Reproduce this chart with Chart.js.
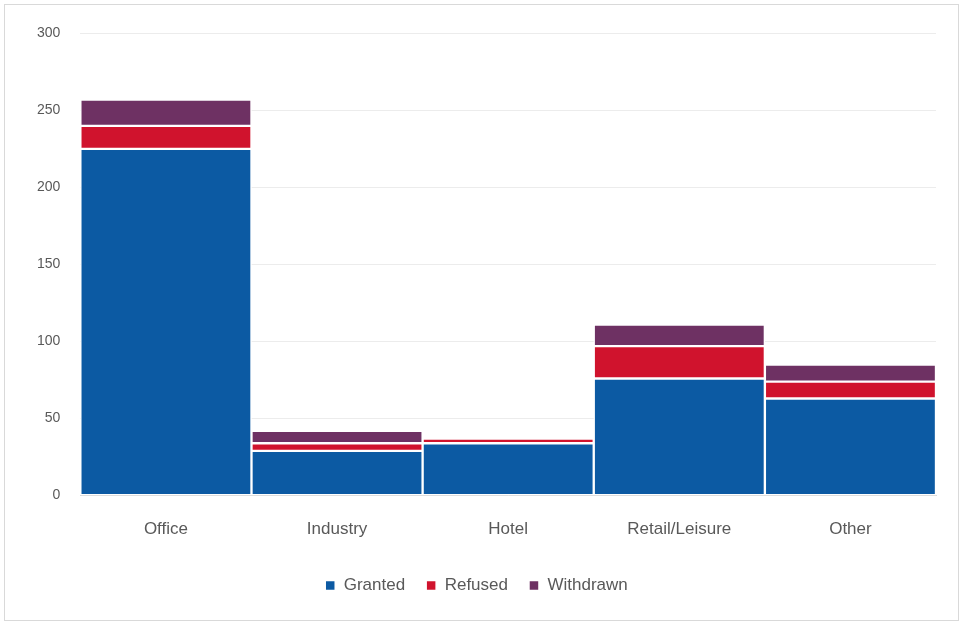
<!DOCTYPE html>
<html lang="en">
<head>
    <meta charset="UTF-8">
    <title>Applications by use</title>
    <script src="https://cdn.jsdelivr.net/npm/chart.js"></script>
    <style>
        body { margin: 0; background: #fff; font-family: 'Open Sans', 'Liberation Sans', sans-serif; }
        .wrap { position: absolute; left: 4px; top: 4px; width: 955px; height: 617px; border: 1px solid #d9d9d9; box-sizing: border-box; }
        canvas { display: block; }
    </style>
</head>
<body>
<div class="wrap">
    <canvas id="chart" width="953" height="615"></canvas>
</div>
<script>
    const categories = ['Office', 'Industry', 'Hotel', 'Retail/Leisure', 'Other'];
    const granted = [225, 29, 34, 76, 63];
    const refused = [15, 5, 3, 21, 11];
    const withdrawn = [17, 8, 0, 14, 11];
    const yTicks = [0, 50, 100, 150, 200, 250, 300];

    const grey = '#595959';

    new Chart(document.getElementById('chart'), {
        type: 'bar',
        data: {
            labels: categories,
            datasets: [
                { label: 'Granted', data: granted, backgroundColor: '#0c5aa3' },
                { label: 'Refused', data: refused, backgroundColor: '#d0132d' },
                { label: 'Withdrawn', data: withdrawn, backgroundColor: '#6e3163' }
            ].map(d => Object.assign(d, {
                borderColor: '#ffffff', borderWidth: 1.5, borderSkipped: false,
                categoryPercentage: 1, barPercentage: 1
            }))
        },
        options: {
            responsive: false,
            animation: false,
            layout: { padding: { top: 27, right: 22, left: 12, bottom: 16 } },
            scales: {
                x: {
                    stacked: true,
                    grid: { display: false },
                    border: { color: '#d9d9d9' },
                    ticks: { color: grey, font: { size: 17 }, padding: 16 }
                },
                y: {
                    stacked: true,
                    min: 0, max: 300,
                    afterBuildTicks: axis => { axis.ticks = yTicks.map(v => ({ value: v })); },
                    grid: { color: '#ececec', drawTicks: false },
                    border: { display: false },
                    ticks: { color: grey, font: { size: 14 }, padding: 20 }
                }
            },
            plugins: {
                legend: {
                    position: 'bottom',
                    labels: {
                        color: grey, font: { size: 17 },
                        usePointStyle: true, pointStyle: 'rect', boxWidth: 10, boxHeight: 10,
                        padding: 21
                    }
                },
                tooltip: { enabled: false }
            }
        }
    });
</script>
</body>
</html>
